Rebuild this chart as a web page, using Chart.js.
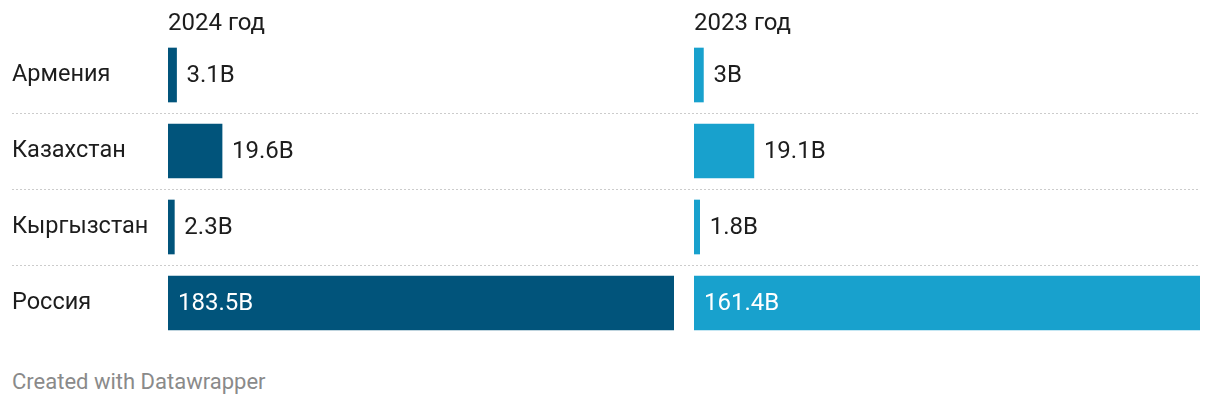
<!DOCTYPE html>
<html>
<head>
<meta charset="utf-8">
<script src="https://cdn.jsdelivr.net/npm/chart.js@4"></script>
<style>
  body { margin: 0; background: #fff; font-family: Roboto, sans-serif; }
  #wrap { position: relative; width: 1220px; height: 406px; }
  #c2024 { position: absolute; left: 0; top: 0; }
  #c2023 { position: absolute; left: 694px; top: 0; }
  #footer { position: absolute; left: 12px; top: 369px; font-size: 22px; line-height: 26px; color: #8a8a8a; }
</style>
</head>
<body>
<div id="wrap">
  <canvas id="c2024" width="1220" height="341"></canvas>
  <canvas id="c2023" width="506" height="341"></canvas>
  <div id="footer">Created with Datawrapper</div>
</div>
<script>
const countries = ["Армения", "Казахстан", "Кыргызстан", "Россия"];
const values2024 = [3.1, 19.6, 2.3, 183.5];
const values2023 = [3, 19.1, 1.8, 161.4];
const labels2024 = ["3.1B", "19.6B", "2.3B", "183.5B"];
const labels2023 = ["3B", "19.1B", "1.8B", "161.4B"];

const font = { family: "Roboto", size: 24 };

// dotted lines between rows, across both panels
const separators = {
  id: "separators",
  beforeDatasetsDraw(chart) {
    const y = chart.scales.y;
    const ctx = chart.ctx;
    ctx.save();
    ctx.strokeStyle = "#cccccc";
    ctx.lineWidth = 1;
    ctx.setLineDash([2, 2]);
    for (let i = 0; i < countries.length - 1; i++) {
      const yy = Math.round((y.getPixelForValue(i) + y.getPixelForValue(i + 1)) / 2) + 0.5;
      ctx.beginPath();
      ctx.moveTo(12, yy);
      ctx.lineTo(1200, yy);
      ctx.stroke();
    }
    ctx.restore();
  },
};

// value labels: inside the bar if there is room, otherwise after it
const valueLabels = {
  id: "valueLabels",
  afterDatasetsDraw(chart, args, opts) {
    const ctx = chart.ctx;
    ctx.save();
    ctx.font = font.size + "px " + font.family;
    ctx.textBaseline = "middle";
    ctx.textAlign = "left";
    chart.getDatasetMeta(0).data.forEach((bar, i) => {
      const text = opts.labels[i];
      const w = ctx.measureText(text).width;
      if (bar.x - bar.base > w + 20) {
        ctx.fillStyle = "#ffffff";
        ctx.fillText(text, bar.base + 10, bar.y + 1);
      } else {
        ctx.fillStyle = "#1d1d1d";
        ctx.fillText(text, bar.x + 10, bar.y + 1);
      }
    });
    ctx.restore();
  },
};

function makeChart(id, values, labels, color, title, showNames) {
  return new Chart(document.getElementById(id), {
    type: "bar",
    data: {
      labels: countries,
      datasets: [{ data: values, backgroundColor: color, barThickness: 54 }],
    },
    options: {
      indexAxis: "y",
      responsive: false,
      animation: false,
      layout: { padding: showNames ? { left: 12, right: 546, top: 0, bottom: 0 } : 0 },
      plugins: {
        legend: { display: false },
        tooltip: { enabled: false },
        valueLabels: { labels: labels },
      },
      scales: {
        x: {
          position: "top",
          min: 0,
          max: Math.max(...values),
          grid: { display: false },
          border: { display: false },
          ticks: { display: false },
          title: {
            display: true,
            text: title,
            align: "start",
            color: "#1d1d1d",
            font: font,
            padding: { top: 10, bottom: 0 },
          },
          afterFit: (s) => { s.height = 37; },
        },
        y: {
          grid: { display: false },
          border: { display: false },
          ticks: {
            display: showNames,
            crossAlign: "far",
            color: "#1d1d1d",
            font: { family: "Roboto", size: 23.5 },
          },
          afterFit: (s) => {
            s.width = showNames ? 156 : 0;
            s.paddingTop = 0;
            s.paddingBottom = 0;
          },
        },
      },
    },
    plugins: showNames ? [separators, valueLabels] : [valueLabels],
  });
}

makeChart("c2024", values2024, labels2024, "#01547b", "2024 год", true);
makeChart("c2023", values2023, labels2023, "#18a1cd", "2023 год", false);
</script>
</body>
</html>
